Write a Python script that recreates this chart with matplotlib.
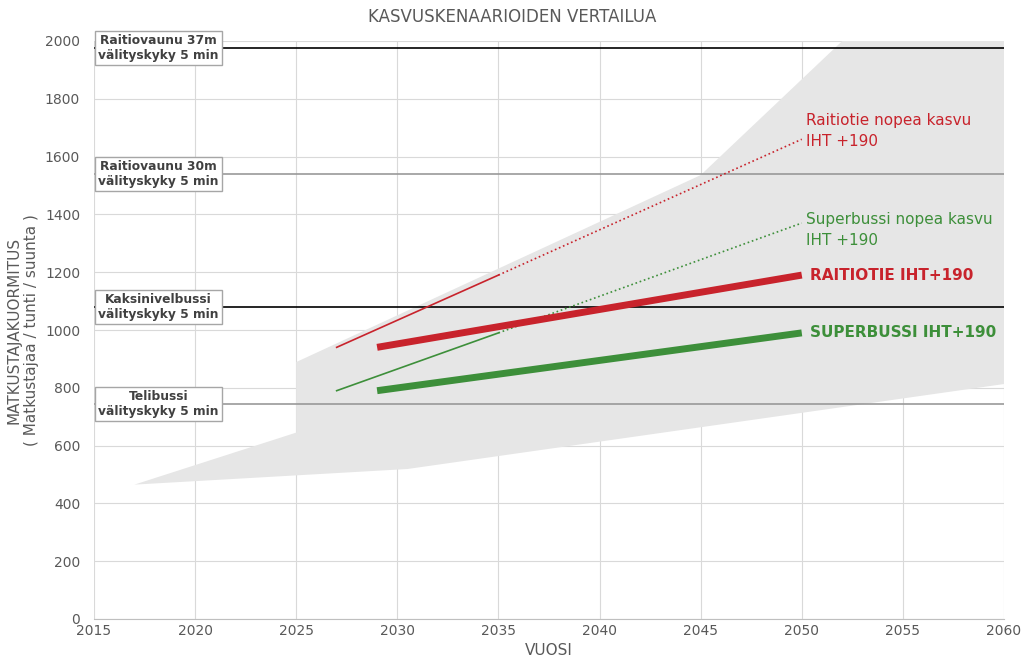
import matplotlib
matplotlib.use("Agg")
import matplotlib.pyplot as plt

years_thick = [2029, 2050]
raitiotie = [940, 1190]
superbussi = [790, 990]
fast_r_solid_x = [2027, 2035]; fast_r_solid = [940, 1190]
fast_r_dot_x = [2035, 2050]; fast_r_dot = [1190, 1660]
fast_g_solid_x = [2027, 2035]; fast_g_solid = [790, 990]
fast_g_dot_x = [2035, 2050]; fast_g_dot = [990, 1370]
band_x = [2017, 2025, 2025, 2045, 2052, 2060, 2060, 2030.5, 2017]
band_y = [465, 645, 889, 1536, 2000, 2000, 813, 519, 465]
cap_levels = [1975, 1540, 1080, 745]
cap_colors = ["black", "#999999", "black", "#999999"]
cap_labels = ["Raitiovaunu 37m\nvälityskyky 5 min", "Raitiovaunu 30m\nvälityskyky 5 min",
              "Kaksinivelbussi\nvälityskyky 5 min", "Telibussi\nvälityskyky 5 min"]

fig = plt.figure(figsize=(10.24, 6.68), dpi=100)
ax = fig.add_axes([94/1024, 1-619/668, 910/1024, 578/668])
ax.set_xlim(2015, 2060); ax.set_ylim(0, 2000)
ax.set_xticks(range(2015, 2061, 5)); ax.set_yticks(range(0, 2001, 200))
ax.grid(color="#d9d9d9", lw=0.8); ax.set_axisbelow(True)
for s in ax.spines.values(): s.set_visible(False)
ax.spines["bottom"].set_visible(True); ax.spines["bottom"].set_color("#bfbfbf")
ax.tick_params(length=0, labelsize=10, colors="#595959")
ax.tick_params(axis="y", pad=10)
ax.fill(band_x, band_y, color="#e6e6e6", zorder=1, lw=0)
for lv, c, lab in zip(cap_levels, cap_colors, cap_labels):
    ax.axhline(lv, color=c, lw=1.2, zorder=2)
    ax.text(2018.2, lv, lab, fontsize=8.8, fontweight="bold", color="#404040", va="center", ha="center",
            bbox=dict(boxstyle="square,pad=0.25", fc="white", ec="#a6a6a6"), zorder=5)
R = "#c8232c"; G = "#3d8f3a"
ax.plot(fast_r_solid_x, fast_r_solid, color=R, lw=1.2, zorder=3)
ax.plot(fast_r_dot_x, fast_r_dot, color=R, lw=1.2, ls=":", zorder=3)
ax.plot(fast_g_solid_x, fast_g_solid, color=G, lw=1.2, zorder=3)
ax.plot(fast_g_dot_x, fast_g_dot, color=G, lw=1.2, ls=":", zorder=3)
ax.plot(years_thick, raitiotie, color=R, lw=5, zorder=4, solid_capstyle="butt")
ax.plot(years_thick, superbussi, color=G, lw=5, zorder=4, solid_capstyle="butt")
ax.text(2050.2, 1690, "Raitiotie nopea kasvu\nIHT +190", color=R, fontsize=11, va="center", linespacing=1.5)
ax.text(2050.2, 1345, "Superbussi nopea kasvu\nIHT +190", color=G, fontsize=11, va="center", linespacing=1.5)
ax.text(2050.4, 1190, "RAITIOTIE IHT+190", color=R, fontsize=11, fontweight="bold", va="center")
ax.text(2050.4, 990, "SUPERBUSSI IHT+190", color=G, fontsize=11, fontweight="bold", va="center")
ax.set_xlabel("VUOSI", fontsize=11, color="#595959", labelpad=4)
ax.set_ylabel("MATKUSTAJAKUORMITUS\n( Matkustajaa / tunti / suunta )", fontsize=11, color="#595959")
fig.text(0.5, 1-17/668, "KASVUSKENAARIOIDEN VERTAILUA", ha="center", va="center", fontsize=12, color="#595959")
fig.savefig("out.png", dpi=100)
